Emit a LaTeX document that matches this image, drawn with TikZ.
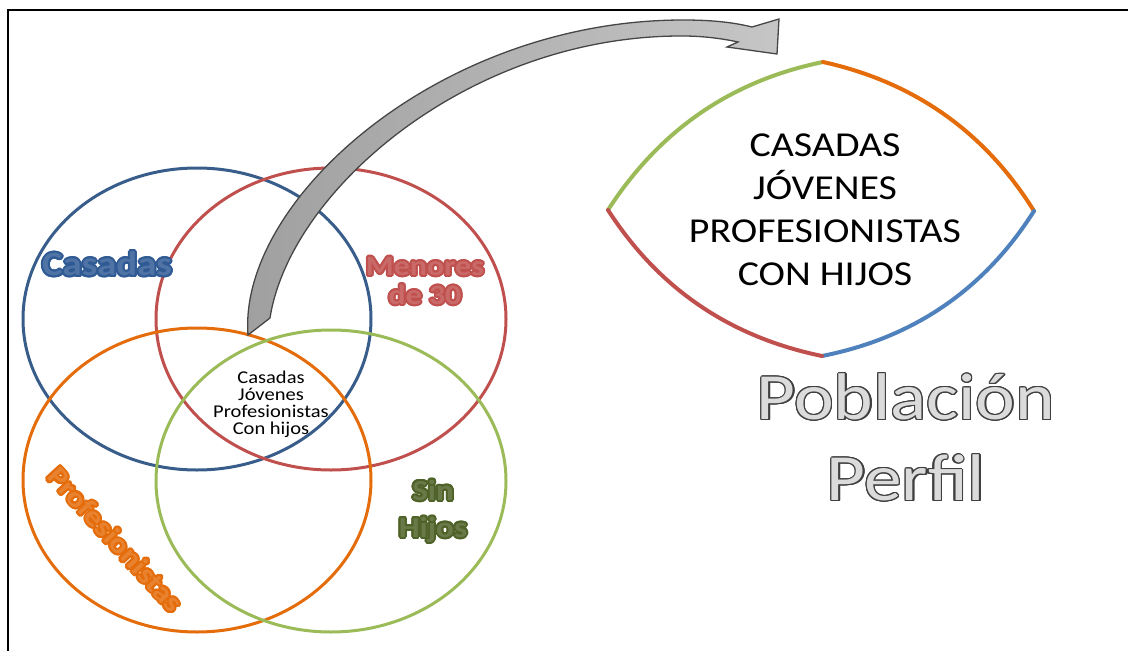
\documentclass[tikz,border=0pt]{standalone}
\usepackage{fontspec}
\setmainfont{Carlito}[FakeStretch=1.14]
\usepackage[copies]{contour}
\contournumber{16}

\definecolor{casblue}{HTML}{2F5A94}
\definecolor{casline}{HTML}{385D8A}
\definecolor{menred}{HTML}{C0504D}
\definecolor{profor}{HTML}{E46C0A}
\definecolor{sinhgreen}{HTML}{9BBB59}
\definecolor{sinhdark}{HTML}{4F6228}
\definecolor{lensblue}{HTML}{4F81BD}

% glowing set label
\newcommand\setlabel[2]{\contourlength{2pt}\contour{#1}{\textcolor{#1!85!white}{#2}}}

\tikzset{
  venn/.style={line width=3},
  lensarc/.style={line width=4,line cap=round},
  tag/.style={font=\bfseries,align=center},
}

\begin{document}
\begin{tikzpicture}[x=1pt,y=-1pt]
  \useasboundingbox (0,0) rectangle (1128,651);
  % frame
  \draw[line width=2.5] (8,670) -- (8,10) -- (1140,10);
  % the four sets
  \draw[venn,casline] (197,319) ellipse [x radius=174pt, y radius=151pt];
  \draw[venn,menred] (331,319) ellipse [x radius=175pt, y radius=151pt];
  \draw[venn,profor] (197,480) ellipse [x radius=174pt, y radius=152pt];
  \draw[venn,sinhgreen] (331,481) ellipse [x radius=175pt, y radius=151pt];
  % big curved arrow
  \path[draw=gray!55!black,line width=1.3,left color=gray!75,right color=gray!45]
    (248,335) .. controls (238,200) and (440,20) .. (683,20)
    .. controls (710,20) and (732,22) .. (752,27) -- (779,19) -- (777,54)
    -- (727,47) -- (738,42) .. controls (720,38) and (700,36) .. (683,36)
    .. controls (470,35) and (290,190) .. (270,318) -- cycle;
  % set labels
  \node[tag,font=\bfseries\fontsize{34}{36}\selectfont] (lcas) at (107,265)
    {\setlabel{casblue}{Casadas}};
  \node[tag,font=\bfseries\fontsize{28}{29}\selectfont] (lmen) at (425,282)
    {\setlabel{menred}{Menores}\\\setlabel{menred}{de 30}};
  \node[tag,font=\bfseries\fontsize{28}{30}\selectfont,rotate=-47.5] (lprof) at (115,540)
    {\setlabel{profor}{Profesionistas}};
  \node[tag,font=\bfseries\fontsize{29}{37}\selectfont] (lsin) at (433,512)
    {\setlabel{sinhdark}{Sin}\\\setlabel{sinhdark}{Hijos}};
  % intersection
  \node[align=center,font=\fontsize{18}{17}\selectfont] (core) at (271,404)
    {Casadas\\Jóvenes\\Profesionistas\\Con hijos};
  % lens
  \coordinate (lw) at (608,210);
  \coordinate (lt) at (823,62);
  \coordinate (le) at (1034,211);
  \coordinate (lb) at (822,356);
  \draw[lensarc,sinhgreen] (lw) .. controls (659,131) and (730,81) .. (lt);
  \draw[lensarc,profor] (lt) .. controls (914,82) and (985,132) .. (le);
  \draw[lensarc,lensblue] (le) .. controls (984,290) and (913,338) .. (lb);
  \draw[lensarc,menred] (lb) .. controls (730,337) and (659,289) .. (lw);
  \node[align=center,font=\fontsize{35}{43}\selectfont] (perfil) at (825,210)
    {CASADAS\\JÓVENES\\PROFESIONISTAS\\CON HIJOS};
  % title
  \contourlength{1.3pt}
  \node[align=center,font=\fontsize{66}{81}\selectfont] (titulo) at (906,438)
    {\contour{black!75}{\textcolor{gray!28}{Población}}\\\contour{black!75}{\textcolor{gray!28}{Perfil}}};
\end{tikzpicture}
\end{document}
